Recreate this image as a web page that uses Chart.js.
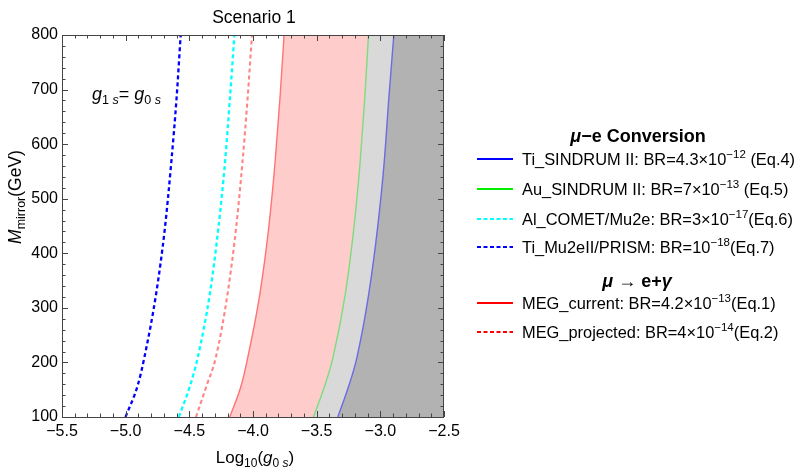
<!DOCTYPE html>
<html><head><meta charset="utf-8">
<script src="https://cdn.jsdelivr.net/npm/chart.js@4.4.0/dist/chart.umd.min.js"></script>
<style>html,body{margin:0;padding:0;background:#fff;}#wrap{width:801px;height:470px;position:relative;}</style>
</head><body><div id="wrap"><canvas id="c" width="801" height="470"></canvas></div>
<script>
// ---- data (x = Log10(g0s) at each mirror mass) ----
const massGeV      = [100, 159, 208, 327, 446, 566, 685, 800];
const tiSindrum    = [-3.334, -3.245, -3.185, -3.090, -3.022, -2.970, -2.933, -2.894];
const auSindrum    = [-3.525, -3.434, -3.373, -3.274, -3.208, -3.159, -3.122, -3.093];
const alComet      = [-4.582, -4.492, -4.435, -4.338, -4.272, -4.220, -4.181, -4.146];
const tiPrism      = [-5.001, -4.904, -4.854, -4.760, -4.692, -4.642, -4.600, -4.568];
const megCurrent   = [-4.183, -4.091, -4.042, -3.945, -3.877, -3.827, -3.788, -3.756];
const megProjected = [-4.448, -4.362, -4.293, -4.199, -4.133, -4.083, -4.042, -4.008];
const xTickLabels  = [-5.5, -5.0, -4.5, -4.0, -3.5, -3.0, -2.5];
const yTickLabels  = [100, 200, 300, 400, 500, 600, 700, 800];
const legendHeaders = ['μ−e Conversion', 'μ → e+γ'];
const legendLabels = [
  ['Ti_SINDRUM II: BR=4.3×10', '−12', ' (Eq.4)'],
  ['Au_SINDRUM II: BR=7×10', '−13', ' (Eq.5)'],
  ['Al_COMET/Mu2e: BR=3×10', '−17', '(Eq.6)'],
  ['Ti_Mu2eII/PRISM: BR=10', '−18', '(Eq.7)'],
  ['MEG_current: BR=4.2×10', '−13', '(Eq.1)'],
  ['MEG_projected: BR=4×10', '−14', '(Eq.2)']
];
const xMin = xTickLabels[0], xMax = xTickLabels[xTickLabels.length-1];
const yMin = yTickLabels[0], yMax = yTickLabels[yTickLabels.length-1];

const FONT = '"Liberation Sans", Arial, sans-serif';
function pts(xs){ return xs.map((x,i)=>({x:x, y:massGeV[i]})); }

function lineDs(xs, color, width, dash, region){
  return {data: pts(xs), borderColor:color, borderWidth:width, borderDash:dash,
    pointRadius:0, pointHoverRadius:0, fill:false, cubicInterpolationMode:'monotone', region:region||null};
}

const datasets = [
  lineDs(tiSindrum, '#6b6be3', 1.4, [], '#b2b2b2'),
  lineDs(auSindrum, '#7ddc7d', 1.4, [], '#d9d9d9'),
  lineDs(megCurrent, '#ff7373', 1.4, [], '#ffcccc'),
  lineDs(alComet, '#00ffff', 2.3, [4,3]),
  lineDs(tiPrism, '#0000ff', 2.3, [4,3]),
  lineDs(megProjected, '#ff8585', 2.1, [4,3])
];

// shade the excluded region to the right of each solid curve, using the curve path built by Chart.js
const regionPlugin = {
  id:'regions',
  beforeDatasetsDraw(chart){
    const ctx = chart.ctx, a = chart.chartArea;
    ctx.save();
    ctx.beginPath(); ctx.rect(a.left, a.top, a.right-a.left, a.bottom-a.top); ctx.clip();
    for (let i = chart.data.datasets.length-1; i >= 0; i--){
      const ds = chart.data.datasets[i];
      if (!ds.region) continue;
      const line = chart.getDatasetMeta(i).dataset;
      line.updateControlPoints(a, 'x');
      ctx.beginPath();
      line.path(ctx);
      ctx.lineTo(a.right, a.top);
      ctx.lineTo(a.right, a.bottom);
      ctx.closePath();
      ctx.fillStyle = ds.region;
      ctx.fill();
    }
    ctx.restore();
  }
};

function fontStr(size, style, weight){ return (style||'normal')+' '+(weight||'normal')+' '+size+'px '+FONT; }
function drawRich(ctx, segs, x, y, align){
  let w = 0;
  segs.forEach(s=>{ ctx.font = fontStr(s.size, s.style, s.weight); s.w = ctx.measureText(s.t).width; w += s.w; });
  let cx = align==='center' ? x - w/2 : x;
  ctx.textAlign = 'left'; ctx.textBaseline = 'alphabetic';
  segs.forEach(s=>{ ctx.font = fontStr(s.size, s.style, s.weight); ctx.fillStyle = s.color||'#000';
    ctx.fillText(s.t, cx, y + (s.dy||0)); cx += s.w; });
}

const framePlugin = {
  id:'frame',
  afterDraw(chart){
    const ctx = chart.ctx, a = chart.chartArea, xs = chart.scales.x, ys = chart.scales.y;
    ctx.save();
    ctx.strokeStyle = '#444'; ctx.lineWidth = 1;
    ctx.strokeRect(Math.round(a.left)+0.5, Math.round(a.top)+0.5, Math.round(a.right-a.left)-1, Math.round(a.bottom-a.top));
    ctx.beginPath();
    for (let k=0; k<=30; k++){
      const v = xMin + k*0.1, px = Math.round(xs.getPixelForValue(v))+0.5, L = (k%5===0)?6:3.5;
      ctx.moveTo(px, a.bottom); ctx.lineTo(px, a.bottom-L);
      ctx.moveTo(px, a.top); ctx.lineTo(px, a.top+L);
    }
    for (let k=0; k<=35; k++){
      const v = yMin + k*20, py = Math.round(ys.getPixelForValue(v))+0.5, L = (k%5===0)?6:3.5;
      ctx.moveTo(a.left, py); ctx.lineTo(a.left+L, py);
      ctx.moveTo(a.right, py); ctx.lineTo(a.right-L, py);
    }
    ctx.stroke();

    drawRich(ctx, [{t:'Scenario 1', size:17.5}], 254, 23, 'center');
    drawRich(ctx, [{t:'Log', size:17},{t:'10', size:12, dy:4},{t:'(', size:17},{t:'g', size:17, style:'italic'},
      {t:'0 ', size:12, dy:4},{t:'s', size:12, dy:4, style:'italic'},{t:')', size:17}], 255, 463, 'center');
    ctx.save(); ctx.translate(21, 197); ctx.rotate(-Math.PI/2);
    drawRich(ctx, [{t:'M', size:17.5, style:'italic'},{t:'mirror', size:12.5, dy:4},{t:'(GeV)', size:17.5}], 0, 0, 'center');
    ctx.restore();
    drawRich(ctx, [{t:'g', size:18, style:'italic'},{t:'1 ', size:12.5, dy:4},{t:'s', size:12.5, dy:4, style:'italic'},
      {t:'= ', size:18},{t:'g', size:18, style:'italic'},{t:'0 ', size:12.5, dy:4},{t:'s', size:12.5, dy:4, style:'italic'}], 92, 100, 'left');

    drawRich(ctx, [{t:'μ', size:18, weight:'bold', style:'italic'},{t:legendHeaders[0].slice(1), size:18, weight:'bold'}], 638, 142, 'center');
    drawRich(ctx, [{t:'μ', size:18, weight:'bold', style:'italic'},{t:' → e+', size:18, weight:'bold'},{t:'γ', size:18, weight:'bold', style:'italic'}], 637, 287, 'center');
    const rows = [159, 189, 219, 247, 303, 332];
    const sample = [['#0000ff',[]],['#00ee00',[]],['#00ffff',[4,2.5]],['#0000ff',[4,2.5]],['#ff0000',[]],['#ff0000',[4,2.5]]];
    rows.forEach((ry,i)=>{
      ctx.beginPath(); ctx.strokeStyle = sample[i][0]; ctx.lineWidth = 2; ctx.setLineDash(sample[i][1]);
      ctx.moveTo(477, ry); ctx.lineTo(513, ry); ctx.stroke(); ctx.setLineDash([]);
      const lab = legendLabels[i];
      drawRich(ctx, [{t:lab[0], size:16.4},{t:lab[1], size:11.5, dy:-7},{t:lab[2], size:16.4}], 522, ry+6, 'left');
    });
    ctx.restore();
  }
};

new Chart(document.getElementById('c'), {
  type:'line',
  data:{datasets:datasets},
  options:{
    responsive:false, animation:false, devicePixelRatio:1,
    layout:{padding:{left:0, right:357, top:35, bottom:0}},
    plugins:{legend:{display:false}, tooltip:{enabled:false}, title:{display:false}},
    scales:{
      x:{type:'linear', position:'bottom', min:xMin, max:xMax,
        afterBuildTicks(s){ s.ticks = xTickLabels.map(v=>({value:v})); },
        ticks:{callback:v=>v.toFixed(1).replace('-', '−'), font:{size:16, family:FONT}, color:'#000', padding:5, maxRotation:0, autoSkip:false},
        grid:{display:false, drawTicks:false, tickLength:0}, border:{display:false},
        afterFit(s){ s.height = 53; }},
      y:{type:'linear', position:'left', min:yMin, max:yMax,
        afterBuildTicks(s){ s.ticks = yTickLabels.map(v=>({value:v})); },
        ticks:{callback:v=>String(v), font:{size:16, family:FONT}, color:'#000', padding:4, autoSkip:false},
        grid:{display:false, drawTicks:false, tickLength:0}, border:{display:false},
        afterFit(s){ s.width = 62; }}
    }
  },
  plugins:[regionPlugin, framePlugin]
});
</script></body></html>
